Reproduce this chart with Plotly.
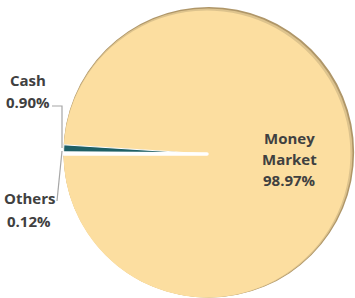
import plotly.graph_objects as go

# ---- data ----
categories = ["Money Market", "Cash", "Others"]
shares = [98.97, 0.90, 0.12]

# ---- style ----
W, H = 355, 298
slice_colors = ["#FCDEA0", "#1F6066", "#FFFFFF"]
line_widths = [0, 1, 3.5]
text_color = "#404040"
font_family = "'Open Sans', Arial, sans-serif"


def dom(cx, cy, r):
    return dict(x=[(cx - r) / W, (cx + r) / W], y=[1 - (cy + r) / H, 1 - (cy - r) / H])


total = sum(shares)
rot = -90 + 360 * (shares[1] + shares[2]) / total

fig = go.Figure()

# edge shading disks (inner-shadow look)
fig.add_trace(go.Pie(values=[1], labels=["shade"], marker=dict(colors=["#AF9668"], line=dict(width=0)),
                     textinfo="none", hoverinfo="skip", sort=False, showlegend=False,
                     domain=dom(208.8, 152.3, 145.3)))
fig.add_trace(go.Pie(values=[1], labels=["shade2"], marker=dict(colors=["#DDC38D"], line=dict(width=0)),
                     textinfo="none", hoverinfo="skip", sort=False, showlegend=False,
                     domain=dom(208.0, 153.0, 144.5)))

# main pie
fig.add_trace(go.Pie(
    labels=categories, values=shares, sort=False, direction="counterclockwise",
    rotation=rot, textinfo="none", hoverinfo="label+percent", showlegend=False,
    marker=dict(colors=slice_colors, line=dict(color="#FFFFFF", width=line_widths)),
    domain=dom(207, 154, 143.4),
))

# labels: per-line annotations
label_pos = {
    "Money Market": (289, [138, 159, 179.5]),
    "Cash": (28, [80, 102]),
    "Others": (29, [198, 220.5]),
}
for cat, val in zip(categories, shares):
    lines = cat.split(" ") + [f"{val:.2f}%"]
    x, ys = label_pos[cat]
    for ln, y in zip(lines, ys):
        fig.add_annotation(x=x / W, y=1 - y / H, xref="paper", yref="paper", text=f"<b>{ln}</b>",
                           showarrow=False, xanchor="center", yanchor="middle",
                           font=dict(family=font_family, size=15, color=text_color))

# leader lines
def P(x, y):
    return f"{x / W:.5f},{1 - y / H:.5f}"

fig.add_shape(type="path", xref="paper", yref="paper",
              path=f"M{P(52, 106)} L{P(62, 106)} L{P(62, 148)}",
              line=dict(color="#A6A6A6", width=1.2))
fig.add_shape(type="path", xref="paper", yref="paper",
              path=f"M{P(57, 201)} L{P(62, 151)}",
              line=dict(color="#A6A6A6", width=1.2))

fig.update_layout(width=W, height=H, margin=dict(l=0, r=0, t=0, b=0),
                  paper_bgcolor="white", plot_bgcolor="white")
fig.write_html("out.html", config={"displayModeBar": False},
               post_script="document.body.style.margin='0px';")
